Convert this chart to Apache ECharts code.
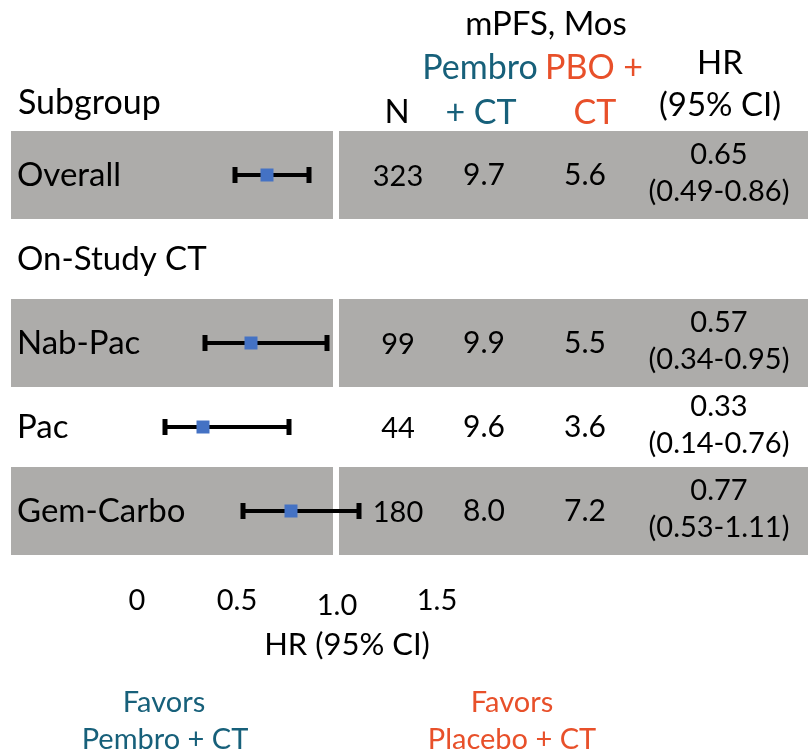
<!DOCTYPE html>
<html>
<head>
<meta charset="utf-8">
<script src="https://cdn.jsdelivr.net/npm/echarts@6/dist/echarts.min.js"></script>
<style>
html,body{margin:0;padding:0;background:#fff;}
#chart{width:808px;height:754px;}
</style>
</head>
<body>
<div id="chart"></div>
<script>
// ---- data ----
const rows = ['Overall', 'On-Study CT', 'Nab-Pac', 'Pac', 'Gem-Carbo'];
const shaded = [true, false, true, false, true];
const hrPoint = [0.65, null, 0.57, 0.33, 0.77];
const hrLow = [0.49, null, 0.34, 0.14, 0.53];
const hrHigh = [0.86, null, 0.95, 0.76, 1.11];
const nPatients = ['323', '', '99', '44', '180'];
const mpfsPembro = ['9.7', '', '9.9', '9.6', '8.0'];
const mpfsPlacebo = ['5.6', '', '5.5', '3.6', '7.2'];
const tickLabels = ['0', '0.5', '1.0', '1.5'];

// ---- style / layout ----
const FONT = 'Lato, "Open Sans", sans-serif';
const TEAL = '#17607A';
const ORANGE = '#E8502A';
const GRAY = '#ADACAA';
const BLUE = '#4472C4';
const BAND_SEGMENTS = [[11, 333], [339, 808]];
const COLS = {n: 398, pembro: 484, pbo: 585, hr: 719};

const chart = echarts.init(document.getElementById('chart'), null, {renderer: 'canvas'});

const bandData = rows.map((r, i) => [0, i, shaded[i] ? 1 : 0]);
const ciData = rows.map((r, i) => hrPoint[i] == null ? null : [hrPoint[i], i, hrLow[i], hrHigh[i]]).filter(d => d);
const tableData = rows.map((r, i) => [0, i]);

const option = {
  animation: false,
  backgroundColor: '#fff',
  grid: {left: 137, width: 300, top: 133, height: 420, containLabel: false},
  xAxis: {
    type: 'value', min: 0, max: 1.5, interval: 0.5,
    axisLine: {show: false}, axisTick: {show: false}, splitLine: {show: false},
    axisLabel: {
      margin: 33, fontSize: 29, fontFamily: FONT, color: '#000',
      formatter: (v) => {
        const t = tickLabels[Math.round(v / 0.5)];
        return v === 1 ? '{low|' + t + '}' : t;
      },
      rich: {low: {fontSize: 29, fontFamily: FONT, color: '#000', padding: [5, 0, 0, 0]}}
    }
  },
  yAxis: {
    type: 'category', data: rows, inverse: true, z: 10,
    axisLine: {show: false}, axisTick: {show: false}, splitLine: {show: false},
    axisLabel: {margin: 120, align: 'left', fontSize: 33, fontFamily: FONT, color: '#000'}
  },
  series: [
    {
      type: 'custom', name: 'bands', clip: false, z: 1,
      data: bandData,
      renderItem: (params, api) => {
        if (!api.value(2)) return null;
        const c = api.coord([0, api.value(1)]);
        const h = api.size([0, 1])[1] + 4;
        return {
          type: 'group',
          children: BAND_SEGMENTS.map(s => ({
            type: 'rect',
            shape: {x: s[0], y: c[1] - h / 2, width: s[1] - s[0], height: h},
            style: {fill: GRAY}
          }))
        };
      }
    },
    {
      type: 'custom', name: 'ci', clip: false, z: 3,
      data: ciData,
      renderItem: (params, api) => {
        const p = api.coord([api.value(0), api.value(1)]);
        const l = api.coord([api.value(2), api.value(1)]);
        const r = api.coord([api.value(3), api.value(1)]);
        const capH = 16;
        return {
          type: 'group',
          children: [
            {type: 'line', shape: {x1: l[0], y1: p[1], x2: r[0], y2: p[1]}, style: {stroke: '#000', lineWidth: 4}},
            {type: 'line', shape: {x1: l[0], y1: p[1] - capH / 2, x2: l[0], y2: p[1] + capH / 2}, style: {stroke: '#000', lineWidth: 5}},
            {type: 'line', shape: {x1: r[0], y1: p[1] - capH / 2, x2: r[0], y2: p[1] + capH / 2}, style: {stroke: '#000', lineWidth: 5}},
            {type: 'rect', shape: {x: p[0] - 6.5, y: p[1] - 6.5, width: 13, height: 13}, style: {fill: BLUE}}
          ]
        };
      }
    },
    {
      type: 'custom', name: 'table', clip: false, z: 4,
      data: tableData,
      renderItem: (params, api) => {
        const i = api.value(1);
        const y = api.coord([0, i])[1];
        if (hrPoint[i] == null) return null;
        const txt = (t, x, yy, size) => ({
          type: 'text',
          style: {text: t, x: x, y: yy, textAlign: 'center', textVerticalAlign: 'middle',
                  fontSize: size, fontFamily: FONT, fill: '#000'}
        });
        return {
          type: 'group',
          children: [
            txt(nPatients[i], COLS.n, y + 2, 29),
            txt(mpfsPembro[i], COLS.pembro, y, 30),
            txt(mpfsPlacebo[i], COLS.pbo, y, 30),
            txt(hrPoint[i].toFixed(2), COLS.hr, y - 20, 29),
            txt('(' + hrLow[i].toFixed(2) + '-' + hrHigh[i].toFixed(2) + ')', COLS.hr, y + 17, 29)
          ]
        };
      }
    }
  ],
  graphic: [
    {type: 'text', left: 18, top: 86, style: {text: 'Subgroup', fontSize: 34, fontFamily: FONT, fill: '#000'}},
    {type: 'text', x: 546, y: 24, style: {text: 'mPFS, Mos', fontSize: 33, fontFamily: FONT, fill: '#000', textAlign: 'center', textVerticalAlign: 'middle'}},
    {type: 'text', x: 480, y: 68, style: {text: 'Pembro', fontSize: 34, fontFamily: FONT, fill: TEAL, textAlign: 'center', textVerticalAlign: 'middle'}},
    {type: 'text', x: 481, y: 113, style: {text: '+ CT', fontSize: 34, fontFamily: FONT, fill: TEAL, textAlign: 'center', textVerticalAlign: 'middle'}},
    {type: 'text', x: 594, y: 68, style: {text: 'PBO +', fontSize: 34, fontFamily: FONT, fill: ORANGE, textAlign: 'center', textVerticalAlign: 'middle'}},
    {type: 'text', x: 595, y: 113, style: {text: 'CT', fontSize: 34, fontFamily: FONT, fill: ORANGE, textAlign: 'center', textVerticalAlign: 'middle'}},
    {type: 'text', x: 397, y: 112, style: {text: 'N', fontSize: 33, fontFamily: FONT, fill: '#000', textAlign: 'center', textVerticalAlign: 'middle'}},
    {type: 'text', x: 720, y: 63, style: {text: 'HR', fontSize: 33, fontFamily: FONT, fill: '#000', textAlign: 'center', textVerticalAlign: 'middle'}},
    {type: 'text', x: 720, y: 105, style: {text: '(95% CI)', fontSize: 33, fontFamily: FONT, fill: '#000', textAlign: 'center', textVerticalAlign: 'middle'}},
    {type: 'text', x: 347, y: 645, style: {text: 'HR (95% CI)', fontSize: 31, fontFamily: FONT, fill: '#000', textAlign: 'center', textVerticalAlign: 'middle'}},
    {type: 'text', x: 164, y: 703, style: {text: 'Favors', fontSize: 29, fontFamily: FONT, fill: TEAL, textAlign: 'center', textVerticalAlign: 'middle'}},
    {type: 'text', x: 165, y: 740, style: {text: 'Pembro + CT', fontSize: 29, fontFamily: FONT, fill: TEAL, textAlign: 'center', textVerticalAlign: 'middle'}},
    {type: 'text', x: 512, y: 703, style: {text: 'Favors', fontSize: 29, fontFamily: FONT, fill: ORANGE, textAlign: 'center', textVerticalAlign: 'middle'}},
    {type: 'text', x: 512, y: 740, style: {text: 'Placebo + CT', fontSize: 29, fontFamily: FONT, fill: ORANGE, textAlign: 'center', textVerticalAlign: 'middle'}}
  ]
};
chart.setOption(option);
</script>
</body>
</html>
